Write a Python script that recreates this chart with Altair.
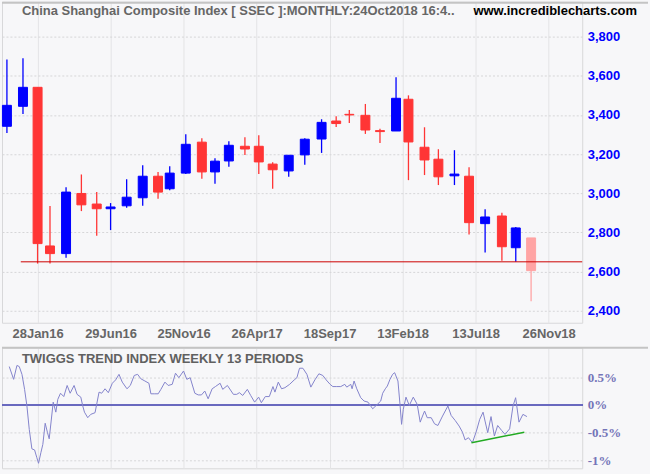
import altair as alt
import pandas as pd

# ---------------- data ----------------
# x position of each monthly candle, as a trading-session number on the chart's axis
session = [58, 80, 100, 117, 139, 160, 181, 200, 222, 244, 265, 281, 303, 325, 343, 362,
           384, 403, 422, 444, 466, 489, 509, 527, 549, 569, 591, 608, 630, 649, 671, 691,
           713, 736, 755, 776]
open_ = [3342, 3444, 3541, 2731, 2692, 2999, 2945, 2921, 2936, 2977, 3087, 3023, 3103, 3261,
         3109, 3165, 3240, 3240, 3149, 3114, 3196, 3277, 3369, 3403, 3398, 3320, 3318, 3480,
         3235, 3174, 3089, 3087, 2845, 2884, 2722, 2772]
high = [3683, 3690, 3541, 2935, 3031, 3096, 3006, 2950, 3072, 3143, 3108, 3138, 3301, 3281,
        3179, 3266, 3286, 3296, 3159, 3194, 3281, 3378, 3393, 3425, 3456, 3330, 3592, 3500,
        3337, 3225, 3220, 3133, 2919, 2901, 2828, 2772]
low = [3308, 3405, 2641, 2641, 2671, 2909, 2783, 2812, 2926, 2936, 2972, 3016, 3099, 3074,
       3048, 3135, 3196, 3099, 3023, 3084, 3145, 3206, 3338, 3359, 3303, 3257, 3318, 3067,
       3093, 3042, 3042, 2789, 2697, 2655, 2650, 2449]
close = [3449, 3541, 2743, 2692, 3006, 2941, 2921, 2930, 2980, 3087, 3006, 3103, 3250, 3109,
         3164, 3245, 3226, 3160, 3120, 3194, 3276, 3362, 3356, 3400, 3323, 3315, 3485, 3262,
         3170, 3084, 3098, 2850, 2879, 2727, 2823, 2605]

# support line
support_level = [2650]
support_from = [77]
support_to = [846]

# x-axis ticks (every 100 sessions) and their labels
tick_sessions = [100, 200, 300, 400, 500, 600, 700, 800]
tick_labels = ["28Jan16", "29Jun16", "25Nov16", "26Apr17", "18Sep17", "13Feb18", "13Jul18", "26Nov18"]
price_ticks = [2400, 2500, 2600, 2700, 2800, 2900, 3000, 3100, 3200, 3300, 3400, 3500, 3600, 3700, 3800]

# Twiggs Trend Index (weekly, 13 periods), in %
trend_session = [61.2, 67.2, 71.7, 74.9, 78.6, 82.2, 85.4, 88.6, 92.2, 95.9, 99.0, 101.3, 104.5,
                 107.2, 110.4, 113.6, 115.9, 118.6, 121.4, 125.0, 127.7, 131.4, 135.9, 140.5,
                 144.6, 150.0, 154.1, 159.2, 161.9, 164.2, 168.7, 172.8, 178.7, 184.2, 187.8,
                 192.4, 196.9, 202.4, 206.9, 211.5, 216.0, 222.4, 227.0, 232.4, 237.0, 241.5,
                 247.0, 252.5, 255.2, 259.8, 265.2, 268.9, 274.4, 278.9, 284.4, 288.9, 293.5,
                 299.9, 304.4, 309.0, 315.4, 320.0, 324.5, 329.0, 333.6, 339.1, 343.6, 350.0,
                 353.6, 360.0, 368.2, 372.8, 376.4, 381.0, 387.3, 391.9, 397.3, 402.8, 406.5,
                 411.9, 417.4,
                 422.4, 425.1, 429.7, 434.2, 438.8, 445.2, 451.6, 455.2, 458.8, 463.4, 468.9,
                 474.3, 479.8, 485.3, 490.7, 495.3, 500.7, 504.4, 509.8, 515.3, 520.8, 523.5,
                 529.0, 530.8, 533.5, 537.2, 542.6, 547.2, 552.6, 559.0, 565.4, 570.0, 572.7,
                 576.3, 579.1, 582.7, 586.3, 589.1, 593.6, 596.4, 598.6, 600.9, 604.6, 609.1,
                 614.6, 620.0, 624.1, 627.3, 630.1, 633.7, 639.2, 643.7, 648.3, 654.7, 662.0,
                 666.5, 672.0, 677.4, 682.0, 685.6, 690.2, 695.6, 701.1, 705.6, 710.2, 712.9,
                 716.6, 721.1, 725.7, 730.2, 735.7, 740.3, 746.6, 751.2, 754.8, 759.4, 764.8,
                 770.3]
trend_value = [0.69, 0.46, 0.71, 0.69, 0.55, 0.28, -0.02, -0.44, -0.79, -0.81, -0.95, -1.05, -0.86,
               -0.71, -0.33, -0.50, -0.61, -0.29, 0.05, -0.13, 0.10, 0.21, 0.15, 0.35, 0.21, 0.35,
               0.19, 0.14, -0.02, -0.13, -0.23, -0.17, -0.14, 0.23, 0.21, 0.29, 0.22, 0.39, 0.45,
               0.55, 0.41, 0.29, 0.35, 0.53, 0.55, 0.47, 0.43, 0.39, 0.20, 0.20, 0.20, 0.28, 0.41,
               0.35, 0.37, 0.57, 0.49, 0.61, 0.46, 0.49, 0.21, 0.18, 0.18, 0.25, 0.11, 0.29, 0.33,
               0.39, 0.28, 0.35, 0.19, 0.19, 0.22, 0.17, 0.28, 0.17, 0.05, 0.14, 0.04, 0.15, 0.15,
               0.33, 0.23, 0.41, 0.29, 0.31, 0.37, 0.45, 0.49, 0.66, 0.66, 0.55, 0.32, 0.45, 0.56,
               0.53, 0.45, 0.37, 0.33, 0.33, 0.33, 0.37, 0.32, 0.37, 0.29, 0.43, 0.29, 0.13, 0.07,
               0.05, -0.07, 0.01, 0.07, 0.21, 0.29, 0.34, 0.46, 0.55, 0.58, 0.43, 0.01, -0.35,
               -0.08, 0.14, -0.01, 0.14, 0.01, -0.31, -0.20, -0.11, -0.23, -0.23, -0.34, -0.37,
               -0.20, -0.02, -0.19, -0.28, -0.38, -0.49, -0.63, -0.59, -0.68, -0.47, -0.26, -0.13,
               -0.29, -0.50, -0.21, -0.56, -0.37, -0.46, -0.53, -0.43, -0.02, 0.13, -0.31, -0.17,
               -0.21]
trend_ticks = [0.5, 0, -0.5, -1]

# green divergence trend line
div_session = [694.3, 766.7]
div_value = [-0.68, -0.49]

# ---------------- tables ----------------
kind = ["up" if c > o else "down" for o, c in zip(open_, close)]
kind[-1] = "partial"
candles = pd.DataFrame({"session": session, "open": open_, "high": high, "low": low,
                        "close": close, "kind": kind})
support = pd.DataFrame({"level": support_level, "start": support_from, "end": support_to})
trend = pd.DataFrame({"session": trend_session, "value": trend_value})
div = pd.DataFrame({"session": div_session, "value": div_value})

# ---------------- styling ----------------
BG = "#f7f7f9"
SANS = "Liberation Sans"
W = 582
H_TOP = 322
H_BOT = 121

label_expr = "[" + ",".join("'%s'" % t for t in tick_labels) + "][round(datum.value/100)-1]"
x_scale = alt.Scale(domain=[51.25, 846], nice=False, zero=False, padding=0)

color_scale = alt.Scale(domain=["up", "down", "partial"],
                        range=["#0000ff", "#ff3535", "#ffa4a4"])

x_top = alt.X("session:Q", scale=x_scale, title=None,
              axis=alt.Axis(values=tick_sessions, labelExpr=label_expr, grid=True,
                            gridColor="#e4e4e6", domain=False, ticks=False, labelOverlap=False,
                            labelFont=SANS, labelFontSize=13, labelFontWeight="bold",
                            labelColor="#666666", labelPadding=5))
y_top = alt.Y("low:Q", scale=alt.Scale(domain=[2339, 3978], nice=False, zero=False, padding=0),
              title=None,
              axis=alt.Axis(orient="right", values=price_ticks, format=",d", grid=True,
                            gridColor="#d6d6d8", gridDash=[2, 2], domain=False, ticks=False,
                            labelOverlap=False,
                            labelFont=SANS, labelFontSize=13, labelFontWeight="bold",
                            labelColor="#0000ff", labelPadding=5))

base = alt.Chart(candles)
wicks = base.mark_rule(strokeWidth=1.3).encode(
    x=x_top, y=y_top, y2="high:Q",
    color=alt.Color("kind:N", scale=color_scale, legend=None))
bodies = base.mark_bar(size=9, strokeWidth=1).encode(
    x="session:Q", y="open:Q", y2="close:Q",
    fill=alt.Fill("kind:N", scale=color_scale, legend=None),
    stroke=alt.Stroke("kind:N", scale=color_scale, legend=None))
support_line = alt.Chart(support).mark_rule(color="#cc0000", strokeWidth=1).encode(
    x="start:Q", x2="end:Q", y="level:Q")

title_df = pd.DataFrame({"t": ["China Shanghai Composite Index [ SSEC ]:MONTHLY:24Oct2018 16:4.."],
                         "w": ["www.incrediblecharts.com"]})
title1 = alt.Chart(title_df).mark_text(align="left", baseline="middle", font=SANS, fontSize=13,
                                       fontWeight="bold", color="#666666").encode(
    text="t:N", x=alt.value(20), y=alt.value(9))
title2 = alt.Chart(title_df).mark_text(align="right", baseline="middle", font=SANS, fontSize=13,
                                       fontWeight="bold", color="#000000").encode(
    text="w:N", x=alt.value(637), y=alt.value(9))
top_border = alt.Chart(title_df).mark_rule(color="#c4c4c4", strokeWidth=2).encode(
    x=alt.value(0), x2=alt.value(648), y=alt.value(1))

upper = alt.layer(wicks, bodies, support_line, title1, title2, top_border).properties(
    width=W, height=H_TOP)

# ---------------- lower panel ----------------
x_bot = alt.X("session:Q", scale=x_scale, title=None,
              axis=alt.Axis(values=tick_sessions, labels=False, grid=True, gridColor="#e4e4e6",
                            domain=False, ticks=False))
y_bot = alt.Y("value:Q", scale=alt.Scale(domain=[-1.14, 1.03], nice=False, zero=False, padding=0),
              title=None,
              axis=alt.Axis(orient="right", values=trend_ticks, labelExpr="datum.value + '%'",
                            grid=True, gridColor="#d6d6d8", gridDash=[2, 2], domain=False,
                            ticks=False, labelOverlap=False, labelFont="Liberation Serif",
                            labelFontSize=13, labelFontWeight="bold", labelColor="#7474b8",
                            labelPadding=5))

trend_line = alt.Chart(trend).mark_line(color="#8484cc", strokeWidth=1).encode(x=x_bot, y=y_bot)
zero_line = alt.Chart(trend).mark_rule(color="#6a6abf", strokeWidth=1.5).encode(y=alt.datum(0))
div_line = alt.Chart(div).mark_line(color="#22aa22", strokeWidth=1.5).encode(
    x="session:Q", y="value:Q")
low_title_df = pd.DataFrame({"t": ["TWIGGS TREND INDEX WEEKLY 13 PERIODS"]})
low_title = alt.Chart(low_title_df).mark_text(align="left", baseline="middle", font=SANS,
                                              fontSize=13, fontWeight="bold",
                                              color="#606060").encode(
    text="t:N", x=alt.value(20), y=alt.value(11))
separator = alt.Chart(low_title_df).mark_rule(color="#c4c4c4", strokeWidth=2).encode(
    x=alt.value(0), x2=alt.value(648), y=alt.value(0))

lower = alt.layer(zero_line, trend_line, div_line, low_title, separator).properties(
    width=W, height=H_BOT)

chart = alt.vconcat(upper, lower, spacing=25, bounds="flush").properties(
    background=BG, padding={"left": 0, "top": 0, "right": 0, "bottom": 4}
).configure_view(fill=BG, stroke="#d8d8da").resolve_scale(x="shared")

chart.save("out.html", embed_options={"renderer": "svg", "actions": False})
